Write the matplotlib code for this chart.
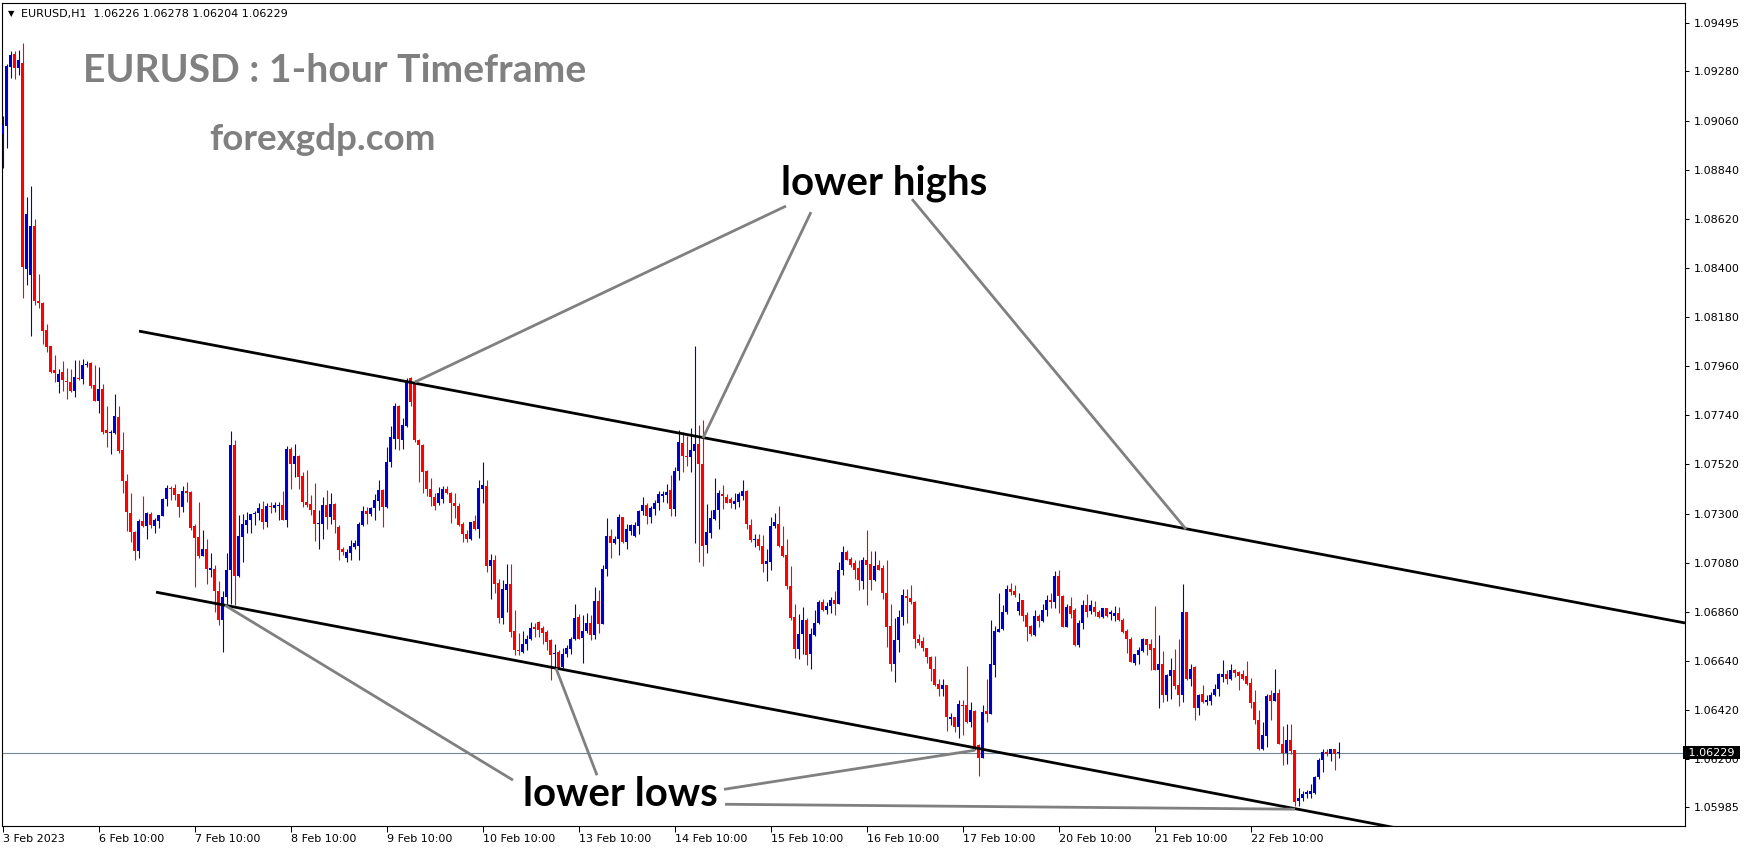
# EURUSD H1: velas del 3 al 23 de febrero de 2023 con canal bajista y anotaciones

import numpy as np
import pandas as pd
import matplotlib
matplotlib.use('Agg')
import matplotlib.pyplot as plt

# Precios OHLC por vela
opens = [
    1.08999, 1.09036, 1.09299, 1.09357, 1.09294, 1.09319, 1.08394, 1.08368, 1.08587, 1.08251,
    1.08245, 1.08120, 1.08049, 1.07941, 1.07891, 1.07936, 1.07893, 1.07888, 1.07850, 1.07907,
    1.07902, 1.07964, 1.07974, 1.07874, 1.07802, 1.07857, 1.07674, 1.07660, 1.07662, 1.07734,
    1.07583, 1.07446, 1.07302, 1.07216, 1.07131, 1.07268, 1.07245, 1.07297, 1.07245, 1.07268,
    1.07288, 1.07365, 1.07415, 1.07413, 1.07386, 1.07331, 1.07403, 1.07396, 1.07245, 1.07194,
    1.07108, 1.07141, 1.07048, 1.07052, 1.06954, 1.06825, 1.06927, 1.07049, 1.07606, 1.07020,
    1.07196, 1.07248, 1.07273, 1.07296, 1.07303, 1.07320, 1.07263, 1.07335, 1.07326, 1.07333,
    1.07338, 1.07273, 1.07591, 1.07521, 1.07557, 1.07467, 1.07352, 1.07342, 1.07318, 1.07251,
    1.07251, 1.07338, 1.07285, 1.07342, 1.07241, 1.07140, 1.07099, 1.07124, 1.07151, 1.07154,
    1.07248, 1.07311, 1.07297, 1.07323, 1.07357, 1.07405, 1.07330, 1.07532, 1.07636, 1.07781,
    1.07629, 1.07691, 1.07905, 1.07890, 1.07629, 1.07606, 1.07490, 1.07412, 1.07375, 1.07345,
    1.07367, 1.07412, 1.07394, 1.07348, 1.07333, 1.07252, 1.07210, 1.07185, 1.07266, 1.07230,
    1.07412, 1.07422, 1.07064, 1.07091, 1.06989, 1.06830, 1.06957, 1.06984, 1.06773, 1.06688,
    1.06680, 1.06715, 1.06736, 1.06792, 1.06815, 1.06789, 1.06770, 1.06733, 1.06673, 1.06680,
    1.06613, 1.06670, 1.06695, 1.06740, 1.06837, 1.06743, 1.06773, 1.06810, 1.06755, 1.06909,
    1.06807, 1.07051, 1.07200, 1.07166, 1.07185, 1.07285, 1.07173, 1.07221, 1.07200, 1.07245,
    1.07310, 1.07337, 1.07285, 1.07322, 1.07345, 1.07378, 1.07382, 1.07405, 1.07322, 1.07490,
    1.07616, 1.07557, 1.07551, 1.07581, 1.07610, 1.07524, 1.07158, 1.07213, 1.07277, 1.07315,
    1.07389, 1.07372, 1.07367, 1.07342, 1.07352, 1.07379, 1.07400, 1.07248, 1.07180, 1.07185,
    1.07154, 1.07076, 1.07083, 1.07243, 1.07255, 1.07154, 1.07113, 1.06974, 1.06837, 1.06695,
    1.06759, 1.06825, 1.06670, 1.06755, 1.06812, 1.06904, 1.06870, 1.06885, 1.06915, 1.06894,
    1.07049, 1.07128, 1.07098, 1.07079, 1.07058, 1.06998, 1.07094, 1.07073, 1.07004, 1.07068,
    1.07058, 1.06942, 1.06795, 1.06628, 1.06733, 1.06837, 1.06930, 1.06920, 1.06905, 1.06736,
    1.06730, 1.06696, 1.06658, 1.06606, 1.06536, 1.06512, 1.06531, 1.06382, 1.06390, 1.06345,
    1.06442, 1.06442, 1.06367, 1.06416, 1.06263, 1.06203, 1.06415, 1.06404, 1.06621, 1.06770,
    1.06785, 1.06860, 1.06964, 1.06954, 1.06864, 1.06912, 1.06845, 1.06796, 1.06755, 1.06840,
    1.06819, 1.06867, 1.06912, 1.06905, 1.07020, 1.06930, 1.06793, 1.06885, 1.06867, 1.06711,
    1.06808, 1.06890, 1.06864, 1.06882, 1.06860, 1.06837, 1.06875, 1.06849, 1.06840, 1.06855,
    1.06822, 1.06773, 1.06740, 1.06631, 1.06666, 1.06685, 1.06736, 1.06715, 1.06700, 1.06601,
    1.06628, 1.06486, 1.06571, 1.06601, 1.06531, 1.06486, 1.06860, 1.06561, 1.06613, 1.06427,
    1.06491, 1.06456, 1.06461, 1.06486, 1.06512, 1.06568, 1.06580, 1.06561, 1.06598, 1.06591,
    1.06580, 1.06571, 1.06542, 1.06456, 1.06377, 1.06247, 1.06303, 1.06486, 1.06461, 1.06497,
    1.06267, 1.06228, 1.06285, 1.06240, 1.06013, 1.06024, 1.06043, 1.06046, 1.06049, 1.06118,
    1.06195, 1.06233, 1.06222, 1.06247, 1.06226,
]
highs = [
    1.09079, 1.09314, 1.09371, 1.09371, 1.09376, 1.09405, 1.08719, 1.08766, 1.08617, 1.08371,
    1.08248, 1.08149, 1.08049, 1.08008, 1.07948, 1.07981, 1.07950, 1.07946, 1.07988, 1.07988,
    1.07991, 1.07982, 1.07977, 1.07965, 1.07957, 1.07880, 1.07780, 1.07674, 1.07837, 1.07780,
    1.07665, 1.07477, 1.07391, 1.07220, 1.07275, 1.07377, 1.07309, 1.07309, 1.07280, 1.07292,
    1.07370, 1.07429, 1.07422, 1.07434, 1.07386, 1.07422, 1.07442, 1.07400, 1.07254, 1.07353,
    1.07228, 1.07185, 1.07125, 1.07069, 1.06997, 1.06954, 1.07124, 1.07670, 1.07629, 1.07293,
    1.07297, 1.07308, 1.07300, 1.07312, 1.07345, 1.07355, 1.07348, 1.07353, 1.07353, 1.07353,
    1.07402, 1.07602, 1.07596, 1.07611, 1.07562, 1.07487, 1.07494, 1.07382, 1.07438, 1.07315,
    1.07372, 1.07405, 1.07394, 1.07345, 1.07248, 1.07151, 1.07139, 1.07181, 1.07181, 1.07263,
    1.07333, 1.07330, 1.07330, 1.07387, 1.07450, 1.07412, 1.07599, 1.07691, 1.07793, 1.07785,
    1.07726, 1.07905, 1.07912, 1.07897, 1.07632, 1.07611, 1.07494, 1.07457, 1.07393, 1.07420,
    1.07423, 1.07423, 1.07397, 1.07390, 1.07345, 1.07263, 1.07228, 1.07263, 1.07293, 1.07449,
    1.07531, 1.07449, 1.07118, 1.07113, 1.07009, 1.07001, 1.07076, 1.07072, 1.06870, 1.06763,
    1.06773, 1.06755, 1.06815, 1.06810, 1.06819, 1.06795, 1.06780, 1.06736, 1.06715, 1.06688,
    1.06698, 1.06713, 1.06748, 1.06897, 1.06852, 1.06845, 1.06855, 1.06845, 1.06972, 1.06957,
    1.07069, 1.07281, 1.07233, 1.07200, 1.07300, 1.07285, 1.07255, 1.07255, 1.07263, 1.07315,
    1.07375, 1.07345, 1.07333, 1.07360, 1.07402, 1.07400, 1.07431, 1.07472, 1.07509, 1.07673,
    1.07666, 1.07646, 1.07681, 1.08049, 1.07695, 1.07721, 1.07342, 1.07315, 1.07457, 1.07404,
    1.07427, 1.07386, 1.07372, 1.07394, 1.07397, 1.07449, 1.07404, 1.07277, 1.07210, 1.07210,
    1.07203, 1.07139, 1.07285, 1.07303, 1.07334, 1.07243, 1.07185, 1.07064, 1.06894, 1.06849,
    1.06882, 1.06834, 1.06788, 1.06867, 1.06912, 1.06919, 1.06904, 1.06927, 1.06953, 1.07083,
    1.07154, 1.07136, 1.07106, 1.07091, 1.07091, 1.07106, 1.07225, 1.07133, 1.07133, 1.07091,
    1.07068, 1.07094, 1.06894, 1.06834, 1.06867, 1.06964, 1.06960, 1.06979, 1.06909, 1.06760,
    1.06745, 1.06700, 1.06661, 1.06661, 1.06557, 1.06557, 1.06531, 1.06407, 1.06390, 1.06467,
    1.06467, 1.06616, 1.06457, 1.06422, 1.06270, 1.06442, 1.06557, 1.06822, 1.06796, 1.06942,
    1.06890, 1.06979, 1.06987, 1.06979, 1.06942, 1.06915, 1.06860, 1.06800, 1.06870, 1.06849,
    1.06897, 1.06934, 1.06942, 1.07043, 1.07049, 1.06934, 1.06897, 1.06927, 1.06875, 1.06822,
    1.06912, 1.06939, 1.06912, 1.06909, 1.06867, 1.06879, 1.06879, 1.06867, 1.06885, 1.06882,
    1.06830, 1.06782, 1.06748, 1.06673, 1.06703, 1.06743, 1.06740, 1.06736, 1.06885, 1.06755,
    1.06685, 1.06583, 1.06651, 1.06695, 1.06736, 1.06984, 1.06860, 1.06628, 1.06616, 1.06494,
    1.06531, 1.06486, 1.06501, 1.06536, 1.06586, 1.06643, 1.06598, 1.06628, 1.06606, 1.06595,
    1.06598, 1.06640, 1.06565, 1.06509, 1.06422, 1.06367, 1.06494, 1.06509, 1.06606, 1.06516,
    1.06348, 1.06356, 1.06359, 1.06243, 1.06073, 1.06058, 1.06064, 1.06088, 1.06124, 1.06207,
    1.06247, 1.06247, 1.06247, 1.06247, 1.06278,
]
lows = [
    1.08848, 1.08937, 1.09251, 1.09246, 1.09263, 1.08265, 1.08325, 1.08094, 1.08234, 1.08222,
    1.08060, 1.08022, 1.07931, 1.07888, 1.07840, 1.07850, 1.07814, 1.07845, 1.07823, 1.07898,
    1.07878, 1.07957, 1.07862, 1.07802, 1.07751, 1.07657, 1.07600, 1.07568, 1.07657, 1.07573,
    1.07391, 1.07223, 1.07172, 1.07091, 1.07100, 1.07240, 1.07185, 1.07237, 1.07215, 1.07237,
    1.07288, 1.07334, 1.07360, 1.07360, 1.07285, 1.07309, 1.07353, 1.07228, 1.06971, 1.07103,
    1.07108, 1.06983, 1.07017, 1.06860, 1.06800, 1.06680, 1.06897, 1.06897, 1.06890, 1.07017,
    1.07084, 1.07211, 1.07214, 1.07248, 1.07270, 1.07233, 1.07241, 1.07303, 1.07308, 1.07273,
    1.07270, 1.07241, 1.07412, 1.07464, 1.07412, 1.07330, 1.07330, 1.07293, 1.07178, 1.07139,
    1.07188, 1.07233, 1.07255, 1.07211, 1.07094, 1.07114, 1.07084, 1.07094, 1.07143, 1.07094,
    1.07244, 1.07255, 1.07288, 1.07273, 1.07315, 1.07241, 1.07323, 1.07509, 1.07587, 1.07584,
    1.07587, 1.07688, 1.07781, 1.07621, 1.07442, 1.07390, 1.07378, 1.07333, 1.07318, 1.07338,
    1.07348, 1.07387, 1.07258, 1.07278, 1.07243, 1.07173, 1.07173, 1.07181, 1.07228, 1.07191,
    1.07345, 1.07039, 1.06919, 1.06942, 1.06810, 1.06807, 1.06860, 1.06745, 1.06665, 1.06665,
    1.06676, 1.06688, 1.06733, 1.06748, 1.06748, 1.06715, 1.06688, 1.06556, 1.06613, 1.06609,
    1.06609, 1.06658, 1.06670, 1.06733, 1.06736, 1.06631, 1.06763, 1.06733, 1.06736, 1.06763,
    1.06807, 1.07019, 1.07103, 1.07163, 1.07113, 1.07166, 1.07143, 1.07203, 1.07196, 1.07207,
    1.07293, 1.07255, 1.07258, 1.07293, 1.07318, 1.07352, 1.07345, 1.07288, 1.07288, 1.07449,
    1.07486, 1.07512, 1.07486, 1.07168, 1.07083, 1.07064, 1.07124, 1.07192, 1.07270, 1.07230,
    1.07322, 1.07345, 1.07325, 1.07322, 1.07330, 1.07360, 1.07230, 1.07173, 1.07148, 1.07136,
    1.07039, 1.06998, 1.07046, 1.07237, 1.07151, 1.07106, 1.06964, 1.06825, 1.06655, 1.06650,
    1.06670, 1.06621, 1.06606, 1.06751, 1.06807, 1.06864, 1.06852, 1.06855, 1.06845, 1.06894,
    1.07024, 1.07091, 1.07061, 1.07009, 1.06959, 1.06964, 1.06889, 1.06959, 1.06998, 1.07046,
    1.06919, 1.06703, 1.06595, 1.06546, 1.06680, 1.06800, 1.06811, 1.06894, 1.06696, 1.06711,
    1.06685, 1.06631, 1.06551, 1.06527, 1.06482, 1.06482, 1.06327, 1.06352, 1.06322, 1.06297,
    1.06307, 1.06363, 1.06345, 1.06240, 1.06124, 1.06203, 1.06367, 1.06401, 1.06569, 1.06770,
    1.06778, 1.06852, 1.06934, 1.06927, 1.06845, 1.06819, 1.06730, 1.06751, 1.06751, 1.06793,
    1.06815, 1.06840, 1.06879, 1.06879, 1.06855, 1.06790, 1.06790, 1.06830, 1.06706, 1.06703,
    1.06785, 1.06837, 1.06852, 1.06840, 1.06834, 1.06834, 1.06837, 1.06822, 1.06819, 1.06819,
    1.06766, 1.06676, 1.06636, 1.06621, 1.06625, 1.06680, 1.06666, 1.06598, 1.06598, 1.06431,
    1.06456, 1.06461, 1.06471, 1.06516, 1.06437, 1.06456, 1.06556, 1.06527, 1.06374, 1.06397,
    1.06452, 1.06442, 1.06442, 1.06482, 1.06482, 1.06546, 1.06536, 1.06556, 1.06568, 1.06509,
    1.06554, 1.06531, 1.06427, 1.06356, 1.06243, 1.06243, 1.06255, 1.06374, 1.06461, 1.06267,
    1.06173, 1.06177, 1.06225, 1.05989, 1.05989, 1.06013, 1.06024, 1.06028, 1.06046, 1.06113,
    1.06143, 1.06213, 1.06192, 1.06153, 1.06204,
]
closes = [
    1.09040, 1.09302, 1.09354, 1.09294, 1.09331, 1.08402, 1.08642, 1.08587, 1.08251, 1.08245,
    1.08116, 1.08046, 1.07934, 1.07931, 1.07926, 1.07897, 1.07890, 1.07850, 1.07910, 1.07902,
    1.07967, 1.07970, 1.07871, 1.07802, 1.07857, 1.07665, 1.07662, 1.07665, 1.07737, 1.07580,
    1.07446, 1.07305, 1.07216, 1.07131, 1.07268, 1.07245, 1.07302, 1.07249, 1.07271, 1.07292,
    1.07365, 1.07413, 1.07412, 1.07382, 1.07331, 1.07403, 1.07394, 1.07237, 1.07189, 1.07108,
    1.07141, 1.07052, 1.07057, 1.06954, 1.06825, 1.06928, 1.07049, 1.07606, 1.07020, 1.07199,
    1.07252, 1.07273, 1.07297, 1.07303, 1.07323, 1.07263, 1.07333, 1.07330, 1.07338, 1.07336,
    1.07273, 1.07587, 1.07521, 1.07557, 1.07464, 1.07352, 1.07338, 1.07318, 1.07251, 1.07257,
    1.07338, 1.07285, 1.07342, 1.07273, 1.07136, 1.07129, 1.07126, 1.07154, 1.07166, 1.07252,
    1.07311, 1.07297, 1.07323, 1.07360, 1.07405, 1.07330, 1.07532, 1.07644, 1.07781, 1.07632,
    1.07696, 1.07897, 1.07800, 1.07629, 1.07606, 1.07487, 1.07412, 1.07375, 1.07333, 1.07390,
    1.07412, 1.07390, 1.07348, 1.07333, 1.07248, 1.07207, 1.07185, 1.07260, 1.07230, 1.07415,
    1.07427, 1.07064, 1.07091, 1.06986, 1.06830, 1.06961, 1.06984, 1.06770, 1.06688, 1.06683,
    1.06715, 1.06736, 1.06789, 1.06785, 1.06780, 1.06766, 1.06725, 1.06665, 1.06677, 1.06610,
    1.06673, 1.06698, 1.06740, 1.06834, 1.06740, 1.06773, 1.06810, 1.06755, 1.06909, 1.06807,
    1.07051, 1.07200, 1.07169, 1.07185, 1.07285, 1.07173, 1.07230, 1.07248, 1.07248, 1.07310,
    1.07337, 1.07288, 1.07327, 1.07348, 1.07387, 1.07387, 1.07397, 1.07322, 1.07490, 1.07621,
    1.07557, 1.07552, 1.07584, 1.07610, 1.07524, 1.07154, 1.07218, 1.07282, 1.07318, 1.07394,
    1.07379, 1.07349, 1.07345, 1.07357, 1.07386, 1.07400, 1.07251, 1.07180, 1.07185, 1.07154,
    1.07076, 1.07086, 1.07243, 1.07260, 1.07154, 1.07109, 1.06974, 1.06830, 1.06695, 1.06762,
    1.06822, 1.06665, 1.06759, 1.06812, 1.06904, 1.06867, 1.06885, 1.06912, 1.06894, 1.07049,
    1.07128, 1.07094, 1.07068, 1.07049, 1.07001, 1.07091, 1.07068, 1.07004, 1.07064, 1.07049,
    1.06942, 1.06792, 1.06628, 1.06733, 1.06837, 1.06934, 1.06923, 1.06905, 1.06736, 1.06718,
    1.06696, 1.06658, 1.06602, 1.06531, 1.06512, 1.06531, 1.06387, 1.06390, 1.06345, 1.06446,
    1.06439, 1.06367, 1.06419, 1.06255, 1.06203, 1.06412, 1.06404, 1.06625, 1.06773, 1.06785,
    1.06860, 1.06964, 1.06949, 1.06934, 1.06905, 1.06840, 1.06793, 1.06760, 1.06840, 1.06819,
    1.06867, 1.06912, 1.06905, 1.07020, 1.06930, 1.06793, 1.06882, 1.06849, 1.06711, 1.06811,
    1.06890, 1.06860, 1.06890, 1.06860, 1.06837, 1.06875, 1.06840, 1.06860, 1.06855, 1.06822,
    1.06770, 1.06740, 1.06636, 1.06670, 1.06691, 1.06740, 1.06710, 1.06691, 1.06601, 1.06628,
    1.06486, 1.06576, 1.06601, 1.06527, 1.06486, 1.06860, 1.06561, 1.06606, 1.06427, 1.06486,
    1.06456, 1.06467, 1.06486, 1.06516, 1.06580, 1.06580, 1.06561, 1.06598, 1.06586, 1.06571,
    1.06561, 1.06536, 1.06452, 1.06374, 1.06247, 1.06307, 1.06482, 1.06461, 1.06497, 1.06267,
    1.06228, 1.06285, 1.06237, 1.06009, 1.06028, 1.06046, 1.06053, 1.06058, 1.06121, 1.06198,
    1.06233, 1.06222, 1.06247, 1.06222, 1.06229,
]

# Escala de precios del eje derecho
price_ticks = [1.09495, 1.09280, 1.09060, 1.08840, 1.08620, 1.08400, 1.08180, 1.07960,
               1.07740, 1.07520, 1.07300, 1.07080, 1.06860, 1.06640, 1.06420, 1.06200, 1.05985]
last_price = 1.06229
header = 'EURUSD,H1  1.06226 1.06278 1.06204 1.06229'

# Horas de negociación (sin fines de semana)
times = pd.date_range('2023-02-03 10:00', '2023-02-23 08:00', freq='h')
times = times[times.dayofweek < 5]

# Líneas del canal y de las anotaciones (vela, precio)
channel = [((34, 1.08117), (420.5, 1.06810)),
           ((38.25, 1.06948), (349.25, 1.05889))]
pointers = [((195.75, 1.08677), (103, 1.07889)),
            ((202, 1.08650), (175, 1.07638)),
            ((227.25, 1.08708), (295.75, 1.07230)),
            ((127.5, 1.06106), (55.5, 1.06889)),
            ((148.5, 1.06128), (138.25, 1.06607)),
            ((180.25, 1.06065), (243, 1.06240)),
            ((180.5, 1.05998), (323, 1.05976))]

W, H = 1749, 850
fig = plt.figure(figsize=(W / 100, H / 100), dpi=100)
ax = fig.add_axes([2.5 / W, 1 - 826 / H, (1685 - 2.5) / W, (826 - 2.5) / H])

o = np.array(opens)
hi = np.array(highs)
lo = np.array(lows)
c = np.array(closes)
x = np.arange(len(c))
colors = np.where(c >= o, '#0000CD', '#FF0000')

# Velas
ax.vlines(x, lo, hi, colors=colors, linewidth=0.8, zorder=2)
body_h = np.maximum(np.abs(c - o), 0.00004)
ax.bar(x, body_h, 0.75, bottom=np.minimum(o, c), color=colors, linewidth=0,
       antialiased=False, zorder=3)

ax.axhline(last_price, color='#778899', linewidth=0.8, zorder=1)

for (x0, y0), (x1, y1) in channel:
    ax.plot([x0, x1], [y0, y1], color='black', linewidth=2.0, solid_capstyle='butt', zorder=5)
for (x0, y0), (x1, y1) in pointers:
    ax.plot([x0, x1], [y0, y1], color='#808080', linewidth=2.0, solid_capstyle='butt', zorder=5)

ax.set_xlim(-0.125, 420.5)
ax.set_ylim(1.059007, 1.095886)

# Eje de precios a la derecha
ax.yaxis.tick_right()
ax.set_yticks(price_ticks)
ax.set_yticklabels(['%.5f' % p for p in price_ticks])
ax.tick_params(axis='y', direction='out', length=3, width=0.75, pad=3, labelsize=8)

# Eje de tiempo
tick_idx = [i for i, t in enumerate(times) if t.hour == 10]
tick_lab = ['3 Feb 2023' if i == 0 else '%d Feb 10:00' % times[i].day for i in tick_idx]
ax.set_xticks(tick_idx)
ax.set_xticklabels(tick_lab)
ax.tick_params(axis='x', direction='out', length=4, width=0.75, pad=2, labelsize=8)
for lab in ax.get_xticklabels():
    lab.set_horizontalalignment('left')

for sp in ax.spines.values():
    sp.set_linewidth(0.8)
    sp.set_color('black')

ax.text(1.0, last_price, ' 1.06229 ', transform=ax.get_yaxis_transform(), color='white',
        fontsize=8, ha='left', va='center', clip_on=False, zorder=10,
        bbox=dict(facecolor='black', edgecolor='none', pad=1.2))

# Textos
fig.text(11 / W, 1 - 14 / H, '\u25bc', fontsize=6, ha='center', va='center')
fig.text(21 / W, 1 - 14.5 / H, header, fontsize=8, ha='left', va='center')

fam = ['Lato', 'DejaVu Sans']
ax.text(19.9, 1.09232, 'EURUSD : 1-hour Timeframe', family=fam, fontweight='bold',
        fontsize=28.2, color='#808080', va='baseline', ha='left', zorder=6)
ax.text(51.5, 1.08928, 'forexgdp.com', family=fam, fontweight='bold',
        fontsize=26.5, color='#808080', va='baseline', ha='left', zorder=6)
ax.text(194.5, 1.08731, 'lower highs', family=fam, fontweight='bold',
        fontsize=29, color='black', va='baseline', ha='left', zorder=6)
ax.text(130.1, 1.05989, 'lower lows', family=fam, fontweight='bold',
        fontsize=29, color='black', va='baseline', ha='left', zorder=6)

fig.savefig('out.png', dpi=100)
